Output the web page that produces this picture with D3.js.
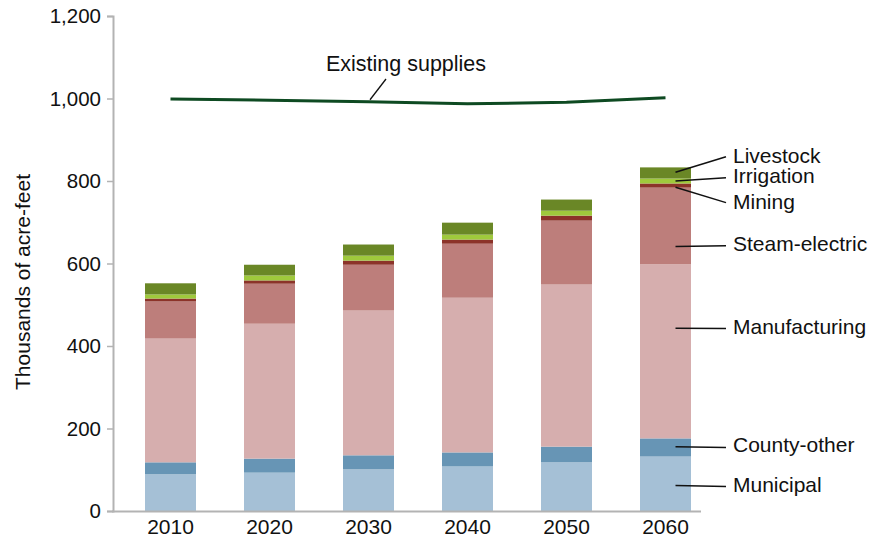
<!DOCTYPE html>
<html>
<head>
<meta charset="utf-8">
<script src="https://cdn.jsdelivr.net/npm/d3@7/dist/d3.min.js"></script>
<style>
  html, body { margin: 0; padding: 0; background: #fff; }
  svg { display: block; font-family: "Liberation Sans", Arial, sans-serif; }
</style>
</head>
<body>
<svg id="chart" width="880" height="544"></svg>
<script>
// ---- Data (thousands of acre-feet) ----
const years = ["2010", "2020", "2030", "2040", "2050", "2060"];
const municipal     = [89, 93, 101, 108, 118, 132];
const countyOther   = [29, 34, 34, 34, 38, 44];
const manufacturing = [300, 327, 351, 375, 393, 422];
const steamElectric = [90, 97, 111, 131, 155, 186];
const mining        = [7, 8, 10, 10, 12, 10];
const irrigation    = [10, 12, 12, 12, 12, 12];
const livestock     = [27, 26, 27, 29, 27, 27];
const existingSupplies = [999, 996, 992, 987, 991, 1002];
const yTicks = [0, 200, 400, 600, 800, 1000, 1200];

const seriesNames  = ["Municipal", "County-other", "Manufacturing", "Steam-electric", "Mining", "Irrigation", "Livestock"];
const seriesValues = [municipal, countyOther, manufacturing, steamElectric, mining, irrigation, livestock];
const seriesColors = ["#a5c0d6", "#6795b5", "#d6aeae", "#bd7e7b", "#8c3329", "#9fc93c", "#6a8726"];
// label anchor values (where the leader line hits the 2060 bar, and where the text sits)
const labelLineValues = [62, 156, 443, 641, 785, 800, 821];
const labelTextValues = [64, 159, 447, 648, 750, 813, 861];

// ---- Layout ----
const svg = d3.select("#chart");
const axisX = 113, plotRight = 701, y0 = 511, yTop = 16;

const x = d3.scaleBand().domain(years).range([121, 715]).paddingInner(0.485).paddingOuter(0.2425);
const y = d3.scaleLinear().domain([0, 1200]).range([y0, yTop]);

const table = years.map((yr, i) => {
  const row = { year: yr };
  seriesNames.forEach((n, k) => row[n] = seriesValues[k][i]);
  return row;
});
const stacked = d3.stack().keys(seriesNames)(table);

// bars
svg.append("g").selectAll("g")
  .data(stacked).join("g")
  .attr("fill", (d, i) => seriesColors[i])
  .selectAll("rect")
  .data(d => d).join("rect")
  .attr("x", d => x(d.data.year))
  .attr("width", x.bandwidth())
  .attr("y", d => y(d[1]))
  .attr("height", d => y(d[0]) - y(d[1]));

// y axis
const yAxis = svg.append("g")
  .attr("transform", `translate(${axisX},0)`)
  .call(d3.axisLeft(y).tickValues(yTicks).tickFormat(d3.format(",")).tickSize(6).tickPadding(6));
yAxis.select(".domain").attr("stroke", "#b3b3b3").attr("stroke-width", 2);
yAxis.selectAll(".tick line").attr("stroke", "#b3b3b3").attr("stroke-width", 1.5);
yAxis.selectAll(".tick text").attr("font-size", 20.5).attr("fill", "#111")
  .attr("font-family", "Liberation Sans, Arial, sans-serif");

// x axis line
svg.append("line")
  .attr("x1", axisX - 1).attr("x2", plotRight)
  .attr("y1", y0 + 0.5).attr("y2", y0 + 0.5)
  .attr("stroke", "#b3b3b3").attr("stroke-width", 2);

// x labels
svg.append("g").selectAll("text")
  .data(years).join("text")
  .attr("x", d => x(d) + x.bandwidth() / 2)
  .attr("y", 534)
  .attr("text-anchor", "middle")
  .attr("font-size", 21)
  .attr("fill", "#111")
  .text(d => d);

// y title
svg.append("text")
  .attr("transform", `translate(30,282) rotate(-90)`)
  .attr("text-anchor", "middle")
  .attr("font-size", 21)
  .attr("fill", "#111")
  .text("Thousands of acre-feet");

// existing supplies line
const line = d3.line()
  .x((d, i) => x(years[i]) + x.bandwidth() / 2)
  .y(d => y(d));
svg.append("path")
  .datum(existingSupplies)
  .attr("d", line)
  .attr("fill", "none")
  .attr("stroke", "#0e4a22")
  .attr("stroke-width", 3);

// existing supplies label + leader
svg.append("line")
  .attr("x1", 370).attr("y1", y(997))
  .attr("x2", 386).attr("y2", 79)
  .attr("stroke", "#111").attr("stroke-width", 1.3);
svg.append("text")
  .attr("x", 406).attr("y", 71)
  .attr("text-anchor", "middle")
  .attr("font-size", 21.5)
  .attr("fill", "#111")
  .text("Existing supplies");

// right-side series labels
const lastX = x(years[years.length - 1]) + x.bandwidth() / 2 + 10;
const labG = svg.append("g");
seriesNames.forEach((n, k) => {
  labG.append("line")
    .attr("x1", lastX).attr("y1", y(labelLineValues[k]))
    .attr("x2", 726).attr("y2", y(labelTextValues[k]) + (k === 6 ? 1 : (k === 4 ? 1 : 2)))
    .attr("stroke", "#111").attr("stroke-width", 1.5);
  labG.append("text")
    .attr("x", 733).attr("y", y(labelTextValues[k]) + 7)
    .attr("font-size", 21)
    .attr("fill", "#111")
    .text(n);
});
</script>
</body>
</html>
